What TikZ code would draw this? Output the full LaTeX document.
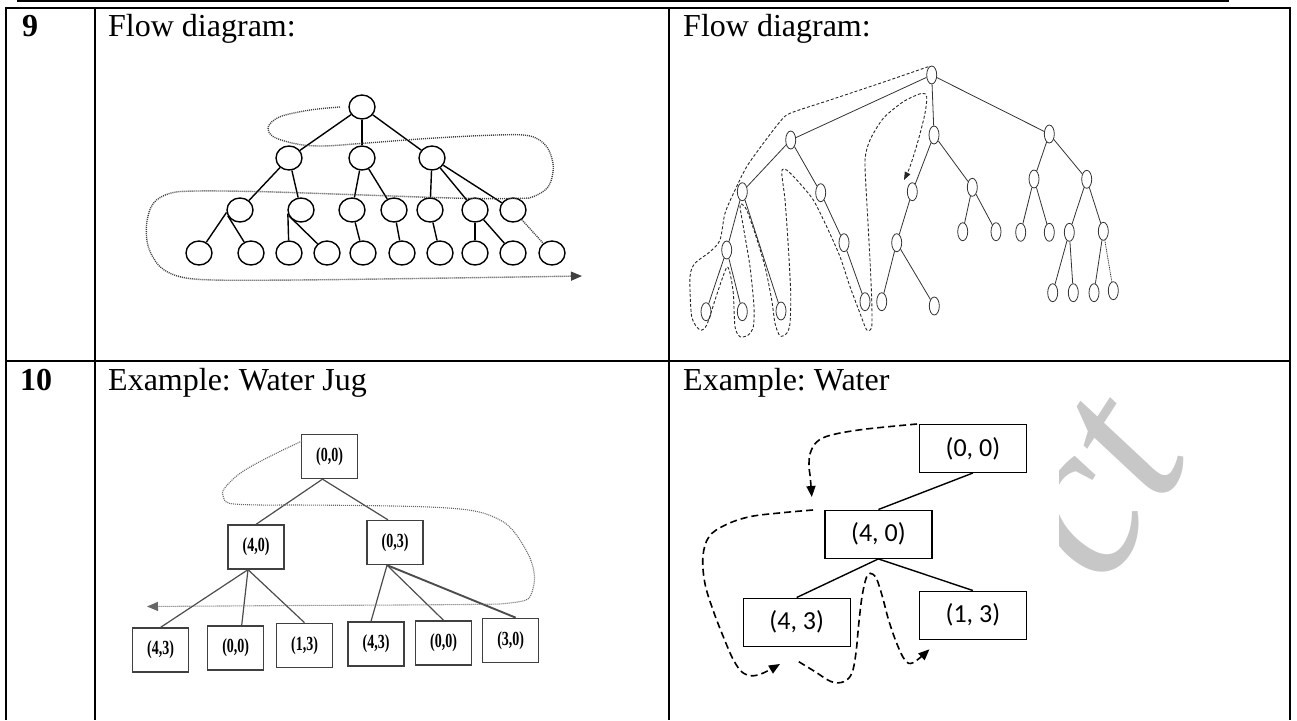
\documentclass[tikz,border=0pt]{standalone}
\usepackage{fontspec}
\setmainfont{Liberation Serif}
\newfontfamily\calibrifont{Carlito}
\usetikzlibrary{shapes.geometric,arrows.meta}
\frenchspacing
\begin{document}
\begin{tikzpicture}[x=1pt,y=-1pt,
  tline/.style={line width=2pt},
  hdr/.style={font=\fontsize{32}{38}\selectfont, inner sep=0pt, anchor=base west},
  cnode/.style={ellipse, draw, line width=1.4pt, minimum width=26pt, minimum height=24pt, inner sep=0pt},
  cedge/.style={line width=1.4pt},
  snode/.style={ellipse, draw=black!80, line width=0.8pt, minimum width=10pt, minimum height=18pt, inner sep=0pt},
  sedge/.style={line width=0.8pt, draw=black!80},
  jbox/.style={draw=black!75, line width=1.3pt, minimum width=56pt, minimum height=44pt, inner sep=0pt,
               font=\bfseries\fontsize{20}{20}\selectfont},
  jedge/.style={line width=1.2pt, draw=black!70},
  wbox/.style={draw, line width=1.4pt, minimum width=107pt, minimum height=48pt, inner sep=0pt,
               font=\calibrifont\fontsize{26}{26}\selectfont},
  wedge/.style={line width=1.4pt},
  trail/.style={line width=1.4pt, draw=black!75, dash pattern=on 1pt off 1pt},
  dtrail/.style={line width=0.9pt, draw=black!85, dash pattern=on 3pt off 2pt},
  wtrail/.style={line width=1.6pt, dash pattern=on 7pt off 4pt},
  tip/.style={-{Triangle[length=11pt,width=9pt]}}
]
\useasboundingbox (0,0) rectangle (1297,720);

% ---------- table frame ----------
\draw[line width=2.4pt] (17,1) -- (1229,1);
\draw[tline] (6,720) -- (6,7.5) -- (1290,7.5) -- (1290,720);
\draw[tline] (95,7.5) -- (95,720);
\draw[tline] (669,7.5) -- (669,720);
\draw[tline] (6,361) -- (1290,361);

\node[hdr] (num9) at (22,36) {\bfseries 9};
\node[hdr] (head9a) at (108,36) {Flow diagram:};
\node[hdr] (head9b) at (683,36) {Flow diagram:};
\node[hdr] (num10) at (20,390) {\bfseries 10};
\node[hdr] (head10a) at (108,390) {Example: Water Jug};
\node[hdr] (head10b) at (683,390) {Example: Water};

% ---------- breadth-first tree ----------
\node[cnode] (p1r) at (362,107) {};
\node[cnode] (p1a) at (289,158) {};
\node[cnode] (p1b) at (362,158) {};
\node[cnode] (p1c) at (432,158) {};
\foreach \n/\x in {d/240,e/301,f/352,g/394,h/430,i/475,j/513}
  \node[cnode] (p1\n) at (\x,210) {};
\foreach \n/\x in {k/199,l/251,m/289,n/327,o/363,p/402,q/440,s/475,t/513,u/552}
  \node[cnode] (p1\n) at (\x,253) {};
\draw[cedge] (p1r) -- (p1a);
\draw[cedge] (p1r) -- (p1b);
\draw[cedge] (p1r) -- (p1c);
\draw[cedge] (p1a) -- (p1d);
\draw[cedge] (p1a) -- (p1e);
\draw[cedge] (p1b) -- (p1f);
\draw[cedge] (p1b) -- (p1g);
\draw[cedge] (p1c) -- (p1h);
\draw[cedge] (p1c) -- (p1i);
\draw[cedge] (p1c) -- (p1j);
\draw[cedge] (p1d.190) -- (p1k);
\draw[cedge] (p1d.205) -- (p1l);
\draw[cedge] (p1e.195) -- (p1m);
\draw[cedge] (p1e.205) -- (p1n);
\draw[cedge] (p1f) -- (p1o);
\draw[cedge] (p1g) -- (p1p);
\draw[cedge] (p1h) -- (p1q);
\draw[cedge] (p1i) -- (p1s);
\draw[cedge] (p1i) -- (p1t);
\draw[trail] (p1j) -- (p1u);
\draw[trail, tip] plot[smooth, tension=0.55] coordinates {
  (340,107) (310,110) (280,116.7) (268.3,126.7) (273.3,136.7) (296.7,144) (323.3,146)
  (363.3,143.3) (430,138.3) (496.7,135) (530,136) (546.7,146.7) (553.3,166.7)
  (548.3,186.7) (533.3,196.7) (520,198.3) (463.3,198.3) (363.3,195) (263.3,191.7)
  (196.7,191) (170,193.3) (153.3,203.3) (146.7,223.3) (148.3,246.7) (160,266.7)
  (180,276.7) (213.3,280) (296.7,280) (430,278.3) (582,276)};

% ---------- depth-first tree ----------
\foreach \n/\x/\y in {R/931.7/75, a/790.7/140, b/934/135, c/1049.3/134,
  a1/742.3/191.7, a2/820.7/192.7, a11/726.7/250, a12/781/311,
  a111/706/311.7, a112/742.3/311.7, a21/844/242.7, a211/865/301.7,
  b1/912.3/191.7, b2/972.3/187.3, b11/896.7/242.7, b111/881.7/301.7, b112/934.3/306,
  b21/962.7/231.7, b22/996/231.7, c1/1034/179, c2/1086.7/179.3,
  c11/1020.7/232.3, c12/1049.3/232.3, c21/1069.3/232.3, c22/1103.3/231.3,
  c211/1052.7/292.7, c212/1073.3/292.7, c221/1094/292.7, c222/1113.3/290.7}
  \node[snode] (q\n) at (\x,\y) {};
\foreach \u/\v in {R/a, R/b, R/c, a/a1, a/a2, a1/a11, a1/a12, a11/a111, a11/a112,
  a2/a21, a21/a211, b/b1, b/b2, b1/b11, b11/b111, b11/b112, b2/b21, b2/b22,
  c/c1, c/c2, c1/c11, c1/c12, c2/c21, c2/c22, c21/c211, c21/c212, c22/c221}
  \draw[sedge] (q\u) -- (q\v);
\draw[sedge, dash pattern=on 1pt off 0.8pt] (qc22) -- (qc222);
\draw[dtrail, -{Triangle[length=8pt,width=6pt]}] plot[smooth, tension=0.45] coordinates {
  (928.3,66.7) (880,83.3) (830,100) (790,113.3) (780,121.7) (763.3,143.3) (746.7,166.7)
  (735,190) (725,213.3) (720,240) (710,251.7) (695,263.3) (690,276.7) (691.7,316.7)
  (700,330) (706.7,325) (715,300) (721.7,280) (727,267) (730,273.3) (733.3,293.3)
  (735,326.7) (740,336.7) (748.3,335) (753.3,326.7) (754,306.7) (750,266.7)
  (743.3,226.7) (740,206.7) (741.7,204) (746.7,210) (755,233.3) (765,266.7)
  (771.7,300) (775,323.3) (780,336) (786.7,333.3) (790,323.3) (790.7,293.3)
  (788.3,246.7) (785,200) (781.7,171.7) (786.7,170) (798.3,181.7) (813.3,200)
  (826.7,226.7) (840,256.7) (850,286.7) (860,313.3) (866.7,330) (871.7,326.7)
  (871.7,300) (870,260) (866.7,200) (865,160) (870,140) (883.3,118.3) (903.3,101.7)
  (921.7,93.3) (926.7,96.7) (925,113.3) (918.3,140) (910,166.7) (904,180)};

% ---------- water jug, breadth-first ----------
\node[jbox] (w0) at (329.5,456.5) {\scalebox{0.7}[1]{(0,0)}};
\node[jbox] (w1) at (256,547) {\scalebox{0.7}[1]{(4,0)}};
\node[jbox] (w2) at (395,542.5) {\scalebox{0.7}[1]{(0,3)}};
\node[jbox] (w3) at (160.6,650) {\scalebox{0.7}[1]{(4,3)}};
\node[jbox] (w4) at (235.7,648) {\scalebox{0.7}[1]{(0,0)}};
\node[jbox] (w5) at (304.5,645.3) {\scalebox{0.7}[1]{(1,3)}};
\node[jbox] (w6) at (376,644) {\scalebox{0.7}[1]{(4,3)}};
\node[jbox] (w7) at (443.6,643) {\scalebox{0.7}[1]{(0,0)}};
\node[jbox] (w8) at (510.7,640.3) {\scalebox{0.7}[1]{(3,0)}};
\draw[jedge] ([xshift=-7pt]w0.south) -- (w1.north);
\draw[jedge] ([xshift=-7pt]w0.south) -- ([xshift=-7pt]w2.north);
\draw[jedge] ([xshift=-8pt]w1.south) -- (w3.north);
\draw[jedge] ([xshift=-8pt]w1.south) -- ([xshift=6pt]w4.north);
\draw[jedge] ([xshift=-8pt]w1.south) -- (w5.north);
\draw[jedge] ([xshift=-8pt]w2.south) -- ([xshift=-5pt]w6.north);
\draw[jedge] ([xshift=-8pt]w2.south) -- (w7.north);
\draw[jedge, line width=1.9pt] ([xshift=-8pt]w2.south) -- ([xshift=5pt]w8.north);
\draw[trail, line width=1.1pt, draw=black!60, tip] plot[smooth, tension=0.55] coordinates {
  (302,441) (285,449) (269.4,456.7) (250,467) (235.7,476.7) (224,489) (223,496)
  (229.4,503.3) (260,505) (294.6,505) (360,505.5) (421,506.7) (460,509) (484,513.3)
  (505,523) (517.7,536.7) (530,558) (534.5,576.7) (532,592) (526,600) (505,603.5)
  (484,604.3) (400,605) (300,605.5) (147,606.5)};

% ---------- faint lettering behind the last panel ----------
\begin{scope}
  \clip (1059,395) rectangle (1289,719);
  \node[text=black!22, font=\itshape\fontsize{220}{220}\selectfont, rotate=57, inner sep=0pt] (mark) at (1098,490) {ct};
\end{scope}

% ---------- water jug, depth-first ----------
\node[wbox] (v0) at (972.9,448.3) {(0, 0)};
\node[wbox] (v1) at (878.4,534.2) {(4, 0)};
\node[wbox] (v2) at (796.7,622.2) {(4, 3)};
\node[wbox] (v3) at (972.9,615.2) {(1, 3)};
\draw[wedge] (v0.south) -- (v1.north);
\draw[wedge] (v1.south) -- (v2.north);
\draw[wedge] (v1.south) -- (v3.north);
\draw[wtrail, tip] plot[smooth, tension=0.6] coordinates {
  (917,424) (864,429.3) (831.4,435) (817,441.7) (810.2,453.3) (809,466.7) (810.2,476.7) (811.8,497)};
\draw[wtrail, tip] plot[smooth, tension=0.6] coordinates {
  (813,510) (782.4,512.7) (749.8,516.7) (725.3,525) (709,536.7) (702.9,556.7) (704.9,583.3)
  (713,610) (723.3,636.7) (733.5,660) (743.7,673.3) (758,675) (780,664)};
\draw[wtrail, tip] plot[smooth, tension=0.6] coordinates {
  (798.8,661.7) (815.1,671.7) (831.4,681.7) (843.7,681.7) (851.8,673.3) (855.9,653.3)
  (858.8,623.3) (862,596.7) (866.1,578.3) (870.2,573.3) (876.3,578.3) (882.4,596.7)
  (888.6,620) (896.7,643.3) (904.9,660) (913,662.7) (929.4,649.3)};
\end{tikzpicture}
\end{document}
